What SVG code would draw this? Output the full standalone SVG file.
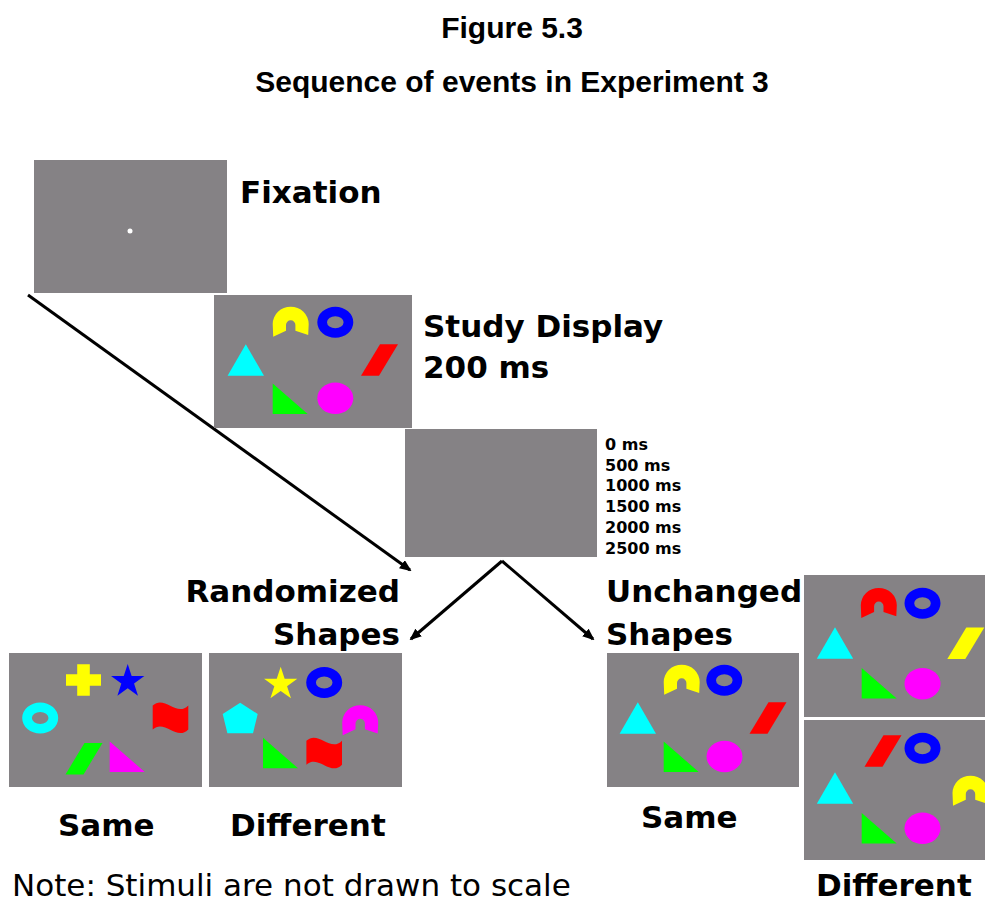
<svg xmlns="http://www.w3.org/2000/svg" width="985" height="903" viewBox="0 0 985 903">
  <style>
    .panel { fill: #858285; }
    .title { font-family: "Liberation Sans", Arial, sans-serif; font-weight: bold; font-size: 30px; fill: #000; text-anchor: middle; }
    .lbl { font-family: "DejaVu Sans", Verdana, sans-serif; font-weight: bold; font-size: 31px; fill: #000; }
    .ms { font-family: "DejaVu Sans", Verdana, sans-serif; font-weight: bold; font-size: 16px; fill: #000; }
    .note { font-family: "DejaVu Sans", Verdana, sans-serif; font-size: 31px; fill: #000; }
    .conn { stroke: #000; stroke-width: 3; fill: none; }
    .yel { fill: #ffff00; } .blu { fill: #0000ff; } .cya { fill: #00ffff; }
    .red { fill: #ff0000; } .grn { fill: #00ff00; } .mag { fill: #ff00ff; }
  </style>
  <defs>
    <marker id="head" viewBox="0 0 12 10" refX="10" refY="5" markerWidth="12" markerHeight="10" markerUnits="userSpaceOnUse" orient="auto">
      <path d="M0,0 L12,5 L0,10 Z" fill="#000"/>
    </marker>
    <!-- stimulus shapes, each centred on its own origin -->
    <path id="arch" d="M -17.5,14.7 L -18,2 A 18 17.3 0 0 1 18 2 L 17.5 13 L 4.7 8.7 L 4.7 3 A 4.7 4.7 0 0 0 -4.7 3 L -4.7 8.7 Z"/>
    <path id="ring" fill-rule="evenodd" d="M -18,0 A 18 15.5 0 1 0 18 0 A 18 15.5 0 1 0 -18 0 Z M -8.3,0 A 8.3 6 0 1 0 8.3 0 A 8.3 6 0 1 0 -8.3 0 Z"/>
    <path id="tri" d="M 0,-15.7 L 18.2,15.7 L -18.2,15.7 Z"/>
    <path id="rtri" d="M -17.5,-15.3 L -17.5,15.3 L 17.5,15.3 Z"/>
    <path id="para" d="M 0.5,-15.7 L 18.5,-15.7 L -0.5,15.7 L -18.5,15.7 Z"/>
    <ellipse id="oval" cx="0" cy="0" rx="18" ry="15.7"/>
    <path id="cross" d="M -6.3,-15.7 H 6.3 V -5.7 H 17.5 V 5.7 H 6.3 V 15.7 H -6.3 V 5.7 H -17.5 V -5.7 H -6.3 Z"/>
    <path id="star" d="M 0,-17.5 L 3.94,-5.42 L 16.64,-5.41 L 6.37,2.07 L 10.29,14.16 L 0,6.7 L -10.29,14.16 L -6.37,2.07 L -16.64,-5.41 L -3.94,-5.42 Z"/>
    <path id="pent" d="M 0,-15.3 L 17.5,-4 L 12.8,15.3 L -12.8,15.3 L -17.5,-4 Z"/>
    <path id="flag" d="M -17.8,-12 C -6,-23 6,0 17.8,-12 L 17.8,12 C 6,24 -6,1 -17.8,12 Z"/>
  </defs>

  <rect width="985" height="903" fill="#fff"/>

  <g id="heading">
    <text class="title" x="512" y="38">Figure 5.3</text>
    <text class="title" x="512" y="92">Sequence of events in Experiment 3</text>
  </g>

  <!-- connectors -->
  <g id="connectors">
    <line class="conn" x1="28" y1="295" x2="410" y2="570" marker-end="url(#head)"/>
    <line class="conn" x1="502" y1="561" x2="411" y2="639" marker-end="url(#head)"/>
    <line class="conn" x1="502" y1="561" x2="593" y2="639" marker-end="url(#head)"/>
  </g>

  <g id="fixation">
    <rect class="panel" x="34" y="160" width="193" height="133"/>
    <circle cx="130" cy="231" r="2.5" fill="#fff"/>
    <text class="lbl" x="240" y="203">Fixation</text>
  </g>

  <g id="study">
    <rect class="panel" x="214" y="295" width="198" height="133"/>
    <use href="#arch" x="290.7" y="322" class="yel"/>
    <use href="#ring" x="335.3" y="322.2" class="blu"/>
    <use href="#tri" x="245.8" y="360" class="cya"/>
    <use href="#para" x="379.5" y="360" class="red"/>
    <use href="#rtri" x="290.2" y="398.7" class="grn"/>
    <use href="#oval" x="335.3" y="398.3" class="mag"/>
    <text class="lbl" x="423" y="337">Study Display</text>
    <text class="lbl" x="423" y="378">200 ms</text>
  </g>

  <g id="retention">
    <rect class="panel" x="405" y="429" width="192" height="128"/>
    <text class="ms" x="605" y="450">0 ms</text>
    <text class="ms" x="605" y="471">500 ms</text>
    <text class="ms" x="605" y="491">1000 ms</text>
    <text class="ms" x="605" y="512">1500 ms</text>
    <text class="ms" x="605" y="533">2000 ms</text>
    <text class="ms" x="605" y="554">2500 ms</text>
  </g>

  <g id="randomized-label">
    <text class="lbl" x="400" y="602" text-anchor="end">Randomized</text>
    <text class="lbl" x="400" y="645" text-anchor="end">Shapes</text>
  </g>

  <g id="unchanged-label">
    <text class="lbl" x="606" y="602">Unchanged</text>
    <text class="lbl" x="606" y="645">Shapes</text>
  </g>

  <g id="randomized-same">
    <rect class="panel" x="9" y="653" width="193" height="134"/>
    <use href="#cross" x="83.5" y="680" class="yel"/>
    <use href="#star" x="127.7" y="681.5" class="blu"/>
    <use href="#ring" x="40.2" y="718" class="cya"/>
    <use href="#flag" x="170.5" y="717.5" class="red"/>
    <use href="#para" x="84" y="758.7" class="grn"/>
    <use href="#rtri" x="127.2" y="756.7" class="mag"/>
    <text class="lbl" x="58" y="836">Same</text>
  </g>

  <g id="randomized-different">
    <rect class="panel" x="209" y="653" width="193" height="134"/>
    <use href="#star" x="280.7" y="684.2" class="yel"/>
    <use href="#ring" x="324.2" y="682.5" class="blu"/>
    <use href="#pent" x="240.2" y="718" class="cya"/>
    <use href="#arch" x="360.2" y="720.5" class="mag"/>
    <use href="#rtri" x="280.5" y="753" class="grn"/>
    <use href="#flag" x="324.2" y="752.8" class="red"/>
    <text class="lbl" x="230" y="836">Different</text>
  </g>

  <g id="unchanged-same">
    <rect class="panel" x="607" y="653" width="192" height="134"/>
    <use href="#arch" x="681.7" y="680" class="yel"/>
    <use href="#ring" x="724.3" y="680.3" class="blu"/>
    <use href="#tri" x="637.8" y="718" class="cya"/>
    <use href="#para" x="768" y="718" class="red"/>
    <use href="#rtri" x="681.2" y="756.7" class="grn"/>
    <use href="#oval" x="724.5" y="756.5" class="mag"/>
    <text class="lbl" x="641" y="828">Same</text>
  </g>

  <g id="unchanged-different">
    <rect class="panel" x="804" y="575" width="181" height="142"/>
    <use href="#arch" x="878.8" y="603.3" class="red"/>
    <use href="#ring" x="922.5" y="603.3" class="blu"/>
    <use href="#tri" x="835" y="643" class="cya"/>
    <use href="#para" x="965.8" y="643.3" class="yel"/>
    <use href="#rtri" x="879.2" y="683.3" class="grn"/>
    <use href="#oval" x="922.5" y="683.7" class="mag"/>

    <rect class="panel" x="804" y="720" width="181" height="140"/>
    <use href="#para" x="883" y="751" class="red"/>
    <use href="#ring" x="922.5" y="748.3" class="blu"/>
    <use href="#tri" x="835" y="788" class="cya"/>
    <use href="#arch" x="970.5" y="791" class="yel"/>
    <use href="#rtri" x="879.2" y="828.3" class="grn"/>
    <use href="#oval" x="922.5" y="828.3" class="mag"/>
    <text class="lbl" x="816" y="896">Different</text>
  </g>

  <text class="note" x="12" y="896">Note: Stimuli are not drawn to scale</text>
</svg>
